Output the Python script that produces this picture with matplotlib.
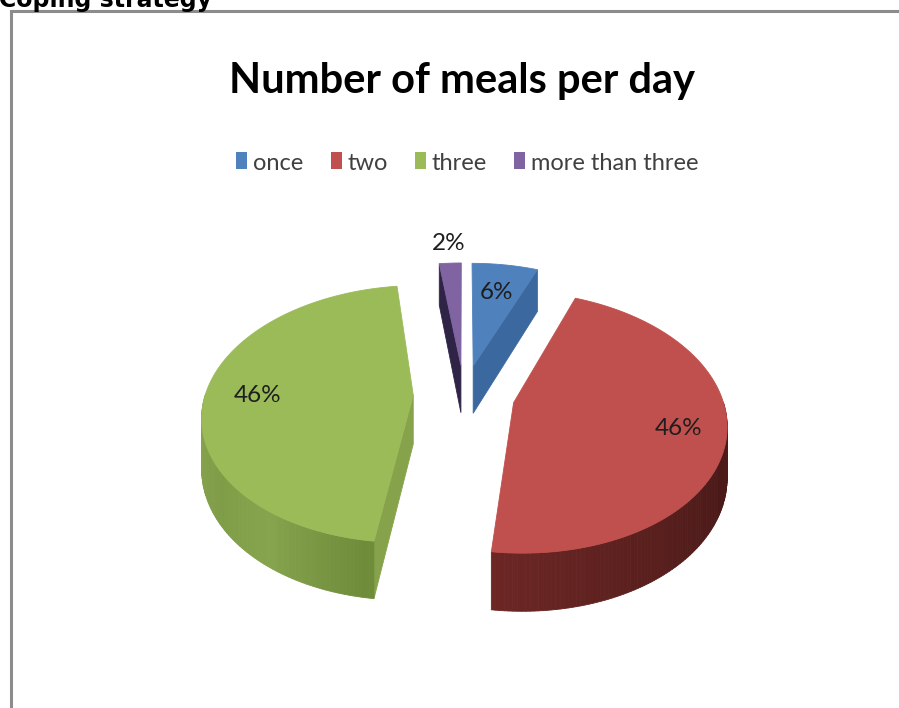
import numpy as np
import matplotlib
matplotlib.use('Agg')
import matplotlib.pyplot as plt
from matplotlib.patches import Polygon, Rectangle
from matplotlib import font_manager
from matplotlib.font_manager import FontProperties
from matplotlib.colors import to_rgb

# meals per day survey
categories = ['once', 'two', 'three', 'more than three']
shares = [6, 46, 46, 2]
pct_labels = ['6%', '46%', '46%', '2%']

top_colors = ['#4f81bd', '#c0504d', '#9bbb59', '#8064a2']
face_colors = ['#3b689f', '#5a1f1d', '#86a34b', '#2f2446']
# shading along the outer wall (angle in degrees, colour)
wall_stops = [
    [(-180, '#3b689f'), (0, '#3b689f')],
    [(-100, '#6e2725'), (-60, '#5a201e'), (-25, '#4a1918'), (0, '#521c1b')],
    [(-180, '#8aa94f'), (-145, '#7f9c47'), (-125, '#86a44d'), (-100, '#6f8c3b')],
    [(-180, '#2f2446'), (0, '#2f2446')],
]
label_r = [0.70, 0.78, 0.75, 1.22]


def pick_font(*names):
    for n in names:
        try:
            font_manager.findfont(FontProperties(family=n), fallback_to_default=False)
            return n
        except ValueError:
            continue
    return 'DejaVu Sans'


narrow = pick_font('Liberation Sans Narrow', 'Lato')

W, H = 899, 708
fig = plt.figure(figsize=(W / 100, H / 100), dpi=100)
ax = fig.add_axes([0, 0, 1, 1])
ax.set_xlim(0, W)
ax.set_ylim(H, 0)
ax.axis('off')

# pie geometry (pixels)
cx, cy = 464, 395
R, kR = 208, 125.7
persp = 0.148
explode = 0.244
depth = 49


def project(u, v, z=0.0):
    f = 1.0 / (1.0 + persp * v)
    return cx + u * R * f, cy - v * kR * f + z * f


def wall_color(stops, t):
    angs = [s[0] for s in stops]
    cols = np.array([to_rgb(s[1]) for s in stops])
    return tuple(np.interp(t, angs, cols[:, k]) for k in range(3))


total = sum(shares)
starts = 90 - 360 * np.concatenate([[0], np.cumsum(shares)[:-1]]) / total
ends = starts - 360 * np.array(shares) / total

walls = []
tops = []
for i in range(len(shares)):
    a0, a1 = starts[i], ends[i]
    mid = np.radians((a0 + a1) / 2)
    ou, ov = explode * np.cos(mid), explode * np.sin(mid)

    # outer curved wall, only the front half shows
    ts = np.linspace(a0, a1, max(2, int(abs(a1 - a0)) + 1))
    for t0, t1 in zip(ts[:-1], ts[1:]):
        tm = np.radians((t0 + t1) / 2)
        if np.sin(tm) >= 0:
            continue
        r0, r1 = np.radians(t0), np.radians(t1)
        pts = [project(ou + np.cos(r0), ov + np.sin(r0)),
               project(ou + np.cos(r1), ov + np.sin(r1)),
               project(ou + np.cos(r1), ov + np.sin(r1), depth),
               project(ou + np.cos(r0), ov + np.sin(r0), depth)]
        tn = ((np.degrees(tm) + 180) % 360) - 180
        walls.append((ov + np.sin(tm), pts, wall_color(wall_stops[i], tn)))

    # radial cut faces
    for a, normal in ((a0, a0 + 90), (a1, a1 - 90)):
        if np.sin(np.radians(normal)) > -1e-6:
            continue
        ra = np.radians(a)
        pts = [project(ou, ov), project(ou + np.cos(ra), ov + np.sin(ra)),
               project(ou + np.cos(ra), ov + np.sin(ra), depth),
               project(ou, ov, depth)]
        walls.append((ov + 0.5 * np.sin(ra), pts, face_colors[i]))

    arc = np.radians(np.linspace(a0, a1, max(2, int(abs(a1 - a0)) + 1)))
    top = [project(ou, ov)] + [project(ou + np.cos(r), ov + np.sin(r)) for r in arc]
    tops.append((ov, top, top_colors[i]))

    lx, ly = project(ou + label_r[i] * np.cos(mid), ov + label_r[i] * np.sin(mid))
    ax.text(lx, ly, pct_labels[i], family=narrow, fontsize=17.5, color='#1e1e1e',
            ha='center', va='center', zorder=10)

for key, pts, col in sorted(walls, key=lambda w: -w[0]):
    ax.add_patch(Polygon(pts, closed=True, facecolor=col, edgecolor=col, lw=0.6, zorder=2))
for key, pts, col in sorted(tops, key=lambda w: -w[0]):
    ax.add_patch(Polygon(pts, closed=True, facecolor=col, edgecolor=col, lw=0.6, zorder=3))

# title and legend
ax.text(462, 93, 'Number of meals per day', family=narrow, weight='bold',
        fontsize=30, color='black', ha='center', va='baseline')
legend_x = [236, 331, 415, 514]
for x, name, col in zip(legend_x, categories, top_colors):
    ax.add_patch(Rectangle((x, 152), 11, 17, facecolor=col, edgecolor='none'))
    ax.text(x + 17, 170, name, family=narrow, fontsize=17, color='#404040',
            ha='left', va='baseline')

# chart frame and section heading above it
ax.plot([11.3, 11.3, W + 5], [H + 5, 11.3, 11.3], color='#8c8c8c', lw=2.2,
        solid_joinstyle='miter', clip_on=False)
ax.text(-1, 7, 'Coping strategy', family='DejaVu Sans', weight='bold', fontsize=17,
        color='black', ha='left', va='baseline', clip_on=False)

fig.savefig('out.png', dpi=100, facecolor='white')
